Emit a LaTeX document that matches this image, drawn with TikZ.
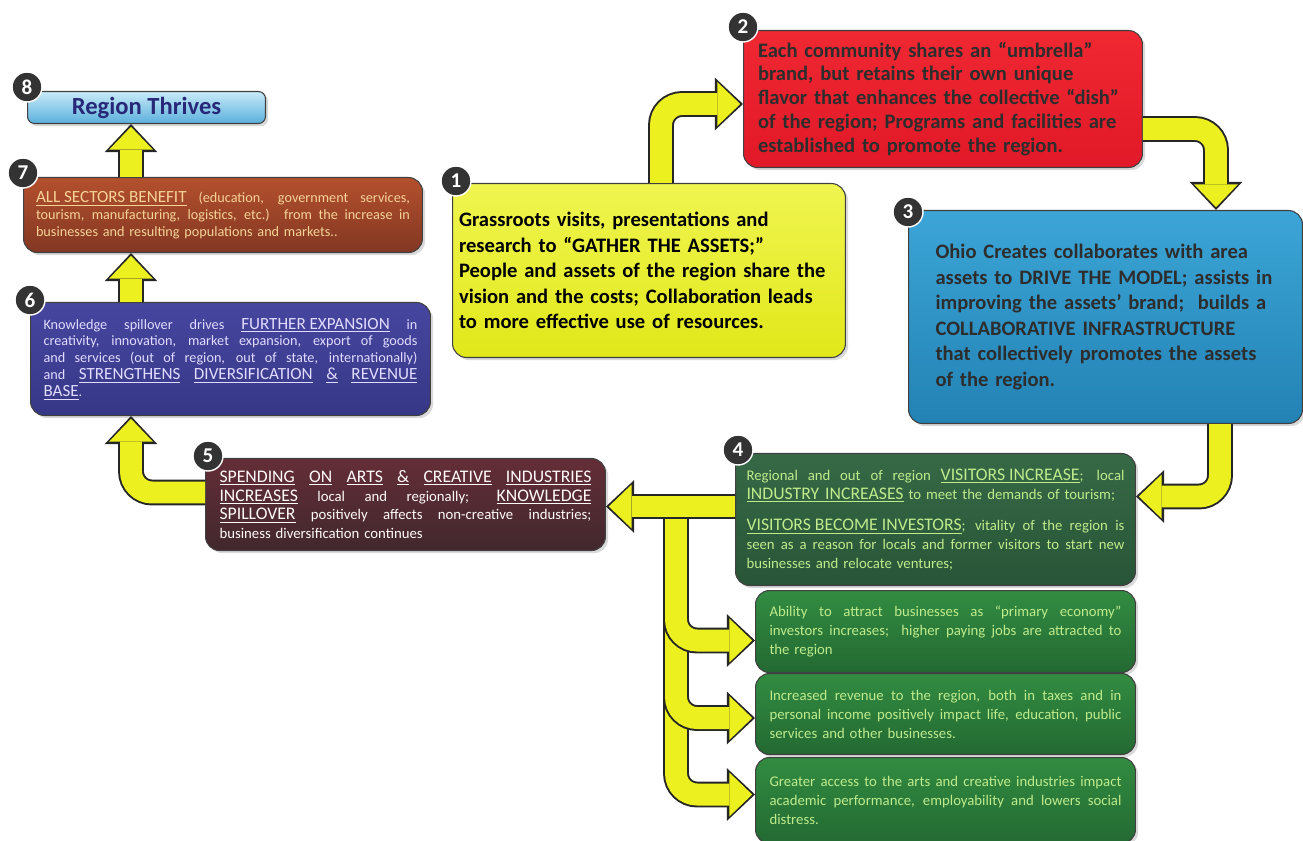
\documentclass[tikz,border=0pt]{standalone}
\usepackage{fontspec}
\setmainfont{Carlito}
\usetikzlibrary{arrows.meta,calc,shadows,positioning}

\definecolor{arrowyellow}{RGB}{236,240,30}
\definecolor{txtdark}{RGB}{45,45,45}
\definecolor{txtgreen}{RGB}{190,235,140}
\definecolor{txtblue}{RGB}{225,220,255}
\definecolor{txtorange}{RGB}{245,210,150}
\definecolor{txtnavy}{RGB}{40,40,120}

\newcommand{\jl}[1]{\noindent\hbox to \hsize{\spaceskip=0pt\xspaceskip=0pt #1}\par}
\newcommand{\ulw}[1]{\underline{\scalebox{1.2}{#1}}}

\tikzset{
  box/.style={rectangle, rounded corners=8pt, draw=black!75, line width=0.6pt,
              anchor=north west, inner sep=0pt, align=left,
              drop shadow={opacity=0.3, shadow xshift=1.5pt, shadow yshift=-1.5pt}},
  bigtext/.style={font=\bfseries\fontsize{11.7}{14.5}\selectfont},
  smalltext/.style={font=\fontsize{8.4}{10.8}\selectfont},
  greentext/.style={font=\fontsize{8.4}{10.8}\selectfont},
  tinytext/.style={font=\fontsize{8.1}{9.6}\selectfont},
  badge/.style={circle, fill=black!80, draw=white, line width=0.8pt, text=white,
                font=\bfseries\fontsize{12}{12}\selectfont, minimum size=0.6cm, inner sep=0pt},
  fatarrow/.style={draw=arrowyellow, line width=12.5pt, rounded corners=12pt, shorten >=1.6pt,
                   -{Triangle[length=13pt,width=25pt,line width=0pt]},
                   preaction={draw=black!85, line width=14.7pt, shorten >=0pt,
                              -{Triangle[length=16pt,width=30pt,line width=0pt]}}}
}

\begin{document}
\begin{tikzpicture}[x=0.02cm, y=-0.02cm]
\useasboundingbox (0,0) rectangle (1303,841);

\node[box, rounded corners=4pt, top color={rgb,255:red,200;green,235;blue,248}, bottom color={rgb,255:red,90;green,175;blue,220},
      minimum width=4.76cm, minimum height=0.64cm, align=center, text=txtnavy,
      font=\bfseries\fontsize{14}{14}\selectfont] (b8) at (27,91) {Region Thrives};

\node[box, top color={rgb,255:red,180;green,80;blue,45}, bottom color={rgb,255:red,130;green,55;blue,35},
      minimum width=7.98cm, minimum height=1.5cm, text width=7.48cm, text=txtorange, tinytext] (b7) at (23,177)
{\jl{\ulw{ALL SECTORS BENEFIT} (education, government services,}
 \jl{tourism, manufacturing, logistics, etc.) from the increase in}
 businesses and resulting populations and markets..};

\node[box, top color={rgb,255:red,70;green,70;blue,160}, bottom color={rgb,255:red,55;green,55;blue,135},
      minimum width=8cm, minimum height=2.26cm, text width=7.48cm, text=txtblue, tinytext] (b6) at (30,302)
{\jl{Knowledge spillover drives \ulw{FURTHER EXPANSION} in}
 \jl{creativity, innovation, market expansion, export of goods}
 \jl{and services (out of region, out of state, internationally)}
 \jl{and \ulw{STRENGTHENS} \ulw{DIVERSIFICATION} \ulw{\&} \ulw{REVENUE}}
 \ulw{BASE}.};

\node[box, top color={rgb,255:red,100;green,45;blue,55}, bottom color={rgb,255:red,65;green,40;blue,45},
      minimum width=8cm, minimum height=1.84cm, text width=7.44cm, text=white!92!pink, smalltext] (b5) at (205,458)
{\jl{\ulw{SPENDING} \ulw{ON} \ulw{ARTS} \ulw{\&} \ulw{CREATIVE} \ulw{INDUSTRIES}}
 \jl{\ulw{INCREASES} local and regionally; \ulw{KNOWLEDGE}}
 \jl{\ulw{SPILLOVER} positively affects non-creative industries;}
 business diversification continues};

\node[box, top color={rgb,255:red,240;green,245;blue,80}, bottom color={rgb,255:red,225;green,232;blue,25},
      minimum width=7.86cm, minimum height=3.48cm, text width=7.6cm, text=black, bigtext] (b1) at (452,183)
{Grassroots visits, presentations and\\
 research to “GATHER THE ASSETS;”\\
 People and assets of the region share the\\
 vision and the costs; Collaboration leads\\
 to more effective use of resources.};

\node[box, top color={rgb,255:red,240;green,40;blue,50}, bottom color={rgb,255:red,225;green,25;blue,40},
      minimum width=7.98cm, minimum height=2.74cm, text width=7.4cm, text=txtdark,
      font=\bfseries\fontsize{11.7}{13.6}\selectfont] (b2) at (743,30)
{Each community shares an “umbrella”\\
 brand, but retains their own unique\\
 flavor that enhances the collective “dish”\\
 of the region; Programs and facilities are\\
 established to promote the region.};

\node[box, top color={rgb,255:red,60;green,165;blue,215}, bottom color={rgb,255:red,35;green,130;blue,180},
      minimum width=7.88cm, minimum height=4.26cm, text width=6.8cm, text=txtdark, bigtext] (b3) at (908,210)
{Ohio Creates collaborates with area\\
 assets to DRIVE THE MODEL; assists in\\
 improving the assets’ brand;\ \ builds a\\
 COLLABORATIVE INFRASTRUCTURE\\
 that collectively promotes the assets\\
 of the region.};

\node[box, top color={rgb,255:red,55;green,105;blue,70}, bottom color={rgb,255:red,40;green,85;blue,55},
      minimum width=8cm, minimum height=2.64cm, text width=7.56cm, text=txtgreen, smalltext] (b4) at (735,453)
{\jl{Regional and out of region \ulw{VISITORS INCREASE}; local}
 \noindent\ulw{INDUSTRY INCREASES} to meet the demands of tourism;\par
 \vspace{7pt}
 \jl{\ulw{VISITORS BECOME INVESTORS}; vitality of the region is}
 \jl{seen as a reason for locals and former visitors to start new}
 businesses and relocate ventures;};

\node[box, top color={rgb,255:red,50;green,140;blue,65}, bottom color={rgb,255:red,35;green,105;blue,50},
      minimum width=7.6cm, minimum height=1.64cm, text width=7.04cm, text=txtgreen, greentext] (g1) at (755,590)
{\jl{Ability to attract businesses as “primary economy”}
 \jl{investors increases;\ \ higher paying jobs are attracted to}
 the region};

\node[box, top color={rgb,255:red,50;green,140;blue,65}, bottom color={rgb,255:red,35;green,105;blue,50},
      minimum width=7.6cm, minimum height=1.62cm, text width=7.04cm, text=txtgreen, greentext] (g2) at (755,673)
{\jl{Increased revenue to the region, both in taxes and in}
 \jl{personal income positively impact life, education, public}
 services and other businesses.};

\node[box, top color={rgb,255:red,50;green,140;blue,65}, bottom color={rgb,255:red,35;green,105;blue,50},
      minimum width=7.6cm, minimum height=1.72cm, text width=7.04cm, text=txtgreen, greentext] (g3) at (755,757)
{\jl{Greater access to the arts and creative industries impact}
 \jl{academic performance, employability and lowers social}
 distress.};

\coordinate (split) at ($(b4.west)+(-59,-13)$);

\draw[fatarrow] ($(b7.north west)+(108,0)$) -- ($(b8.south west)+(104,0)$);
\draw[fatarrow] ($(b6.north west)+(101,0)$) -- ($(b7.south west)+(108,0)$);
\draw[fatarrow] ($(b5.west)+(0,-12)$) -| ($(b6.south west)+(101,0)$);
\draw[fatarrow] (split) |- ($(g3.west)+(0,-6)$);
\draw[fatarrow] (split) |- ($(g2.west)+(0,4)$);
\draw[fatarrow] (split) |- ($(g1.west)+(0,9)$);
\draw[fatarrow] ($(b4.west)+(0,-13)$) -- (b5.east |- split);
\draw[fatarrow] ($(b3.south west)+(312,0)$) |- ($(b4.east)+(0,-23)$);
\draw[fatarrow] ($(b2.east)+(0,30)$) -| ($(b3.north west)+(308,0)$);
\draw[fatarrow] ($(b1.north west)+(209,0)$) |- ($(b2.west)+(0,5)$);

\node[badge] (n1) at ($(b1.north west)+(4,-2)$) {1};
\node[badge] (n2) at ($(b2.north west)+(0,-3)$) {2};
\node[badge] (n3) at ($(b3.north west)+(0,2)$) {3};
\node[badge] (n4) at ($(b4.north west)+(3,-3)$) {4};
\node[badge] (n5) at ($(b5.north west)+(3,-2)$) {5};
\node[badge] (n6) at ($(b6.north west)+(0,-2)$) {6};
\node[badge] (n7) at ($(b7.north west)+(0,-4)$) {7};
\node[badge] (n8) at ($(b8.north west)+(0,-4)$) {8};
\end{tikzpicture}
\end{document}
